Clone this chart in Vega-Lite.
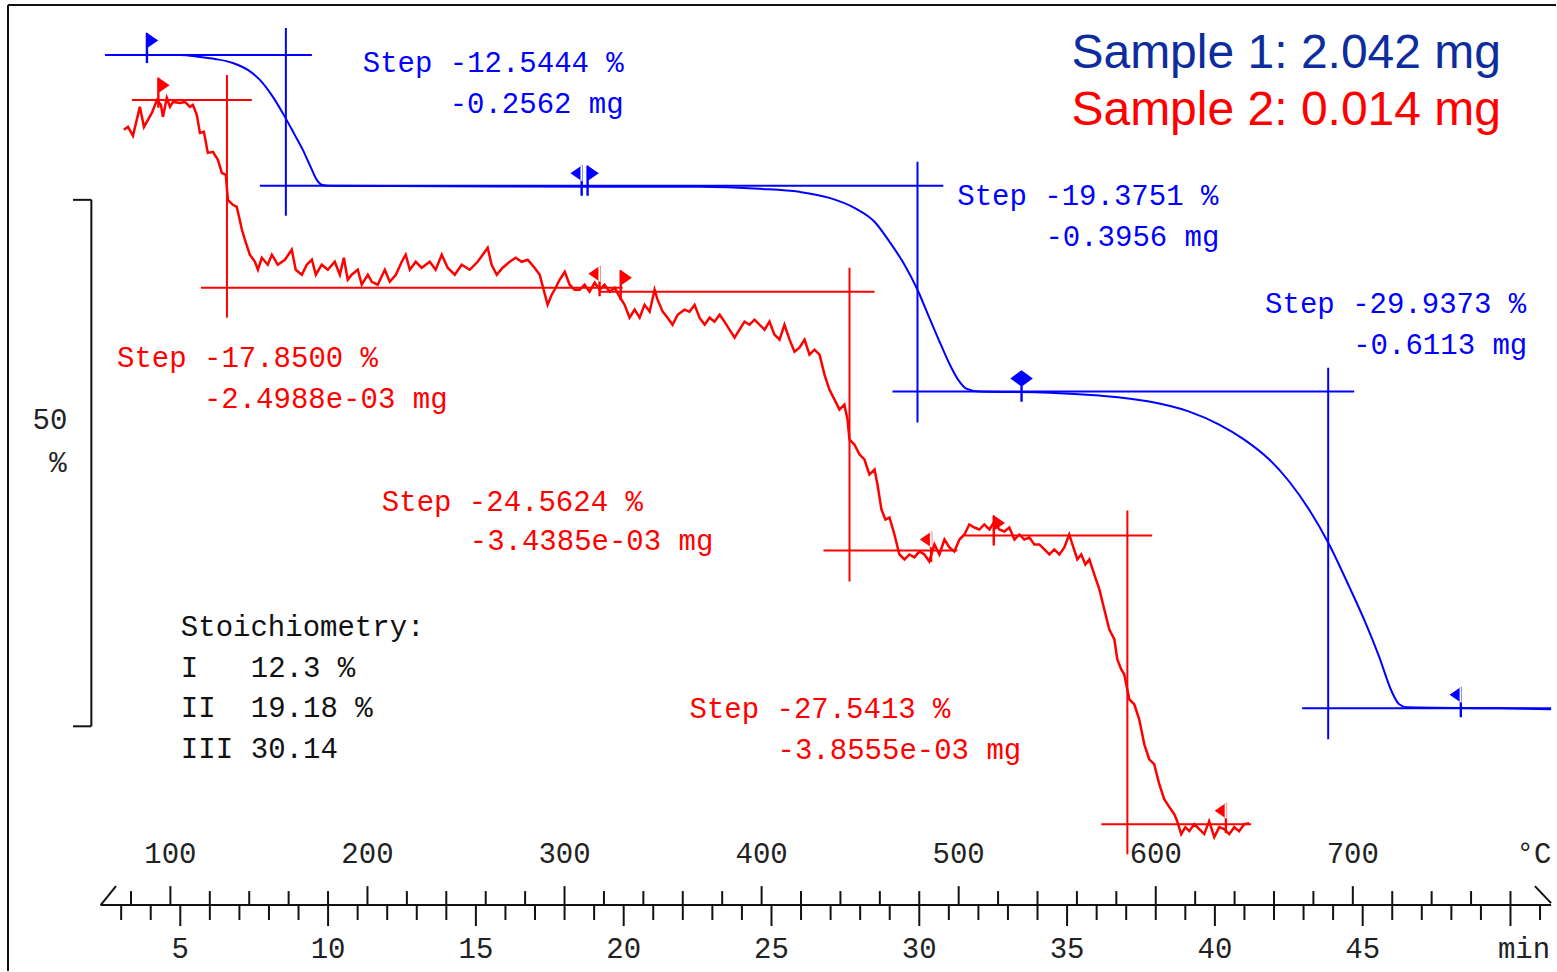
{
"$schema":"https://vega.github.io/schema/vega-lite/v6.json",
"width":1557,"height":972,"padding":0,
"autosize":{"type":"fit","contains":"padding"},
"background":"white",
"config":{"view":{"stroke":null},"text":{"font":"Liberation Mono","fontSize":29}},
"datasets":{
"blue":[{"T":74.4,"v":100.0},{"T":104.8,"v":100.0},{"T":115.0,"v":99.81},{"T":122.6,"v":99.62},{"T":131.7,"v":99.24},{"T":139.3,"v":98.58},{"T":145.4,"v":97.63},{"T":152.0,"v":96.02},{"T":158.1,"v":94.12},{"T":163.1,"v":92.41},{"T":167.2,"v":90.99},{"T":170.7,"v":89.56},{"T":174.3,"v":88.14},{"T":176.8,"v":87.67},{"T":180.9,"v":87.57},{"T":267.1,"v":87.5},{"T":368.5,"v":87.48},{"T":398.9,"v":87.29},{"T":419.2,"v":87.0},{"T":434.4,"v":86.43},{"T":447.1,"v":85.48},{"T":457.3,"v":84.16},{"T":464.9,"v":82.26},{"T":472.5,"v":80.08},{"T":479.1,"v":77.7},{"T":485.1,"v":75.05},{"T":491.2,"v":72.39},{"T":496.3,"v":70.3},{"T":500.4,"v":68.98},{"T":503.9,"v":68.31},{"T":510.5,"v":68.03},{"T":546.0,"v":67.93},{"T":571.4,"v":67.65},{"T":596.7,"v":67.08},{"T":617.0,"v":66.13},{"T":632.2,"v":64.9},{"T":644.9,"v":63.47},{"T":657.6,"v":61.58},{"T":667.7,"v":59.49},{"T":677.8,"v":56.83},{"T":688.0,"v":53.51},{"T":698.1,"v":49.53},{"T":705.7,"v":46.39},{"T":713.3,"v":42.88},{"T":719.9,"v":39.47},{"T":723.5,"v":38.33},{"T":727.5,"v":38.04},{"T":774.2,"v":37.95},{"T":800.6,"v":37.86}],
"red":[{"T":76.4,"v":92.89},{"T":78.5,"v":93.17},{"T":81.0,"v":92.32},{"T":84.5,"v":95.07},{"T":86.6,"v":93.17},{"T":90.6,"v":94.5},{"T":93.2,"v":95.73},{"T":95.2,"v":95.26},{"T":96.2,"v":94.12},{"T":98.2,"v":95.92},{"T":99.8,"v":95.07},{"T":101.3,"v":95.54},{"T":104.8,"v":95.45},{"T":107.4,"v":95.54},{"T":109.9,"v":95.07},{"T":111.4,"v":95.26},{"T":113.4,"v":94.31},{"T":115.0,"v":92.6},{"T":117.0,"v":92.7},{"T":119.0,"v":90.7},{"T":121.6,"v":90.8},{"T":124.1,"v":90.04},{"T":126.1,"v":88.81},{"T":128.1,"v":88.62},{"T":129.2,"v":86.24},{"T":131.7,"v":85.77},{"T":133.7,"v":85.58},{"T":136.3,"v":83.4},{"T":137.8,"v":82.45},{"T":140.3,"v":81.03},{"T":142.9,"v":80.36},{"T":144.4,"v":79.6},{"T":146.4,"v":80.74},{"T":149.4,"v":80.08},{"T":151.5,"v":81.03},{"T":154.5,"v":80.08},{"T":158.1,"v":80.55},{"T":161.6,"v":81.5},{"T":163.6,"v":79.6},{"T":166.7,"v":79.13},{"T":169.2,"v":80.08},{"T":171.8,"v":80.55},{"T":173.8,"v":79.13},{"T":176.8,"v":80.08},{"T":179.9,"v":79.6},{"T":183.4,"v":80.36},{"T":186.0,"v":79.13},{"T":188.0,"v":80.74},{"T":190.0,"v":78.65},{"T":192.0,"v":79.13},{"T":195.1,"v":79.6},{"T":197.1,"v":78.18},{"T":200.2,"v":79.13},{"T":202.2,"v":78.46},{"T":205.2,"v":78.18},{"T":208.8,"v":79.6},{"T":211.3,"v":78.46},{"T":214.4,"v":79.13},{"T":217.4,"v":80.36},{"T":219.4,"v":81.03},{"T":221.5,"v":79.6},{"T":224.5,"v":80.36},{"T":227.5,"v":79.79},{"T":231.6,"v":80.36},{"T":234.6,"v":79.6},{"T":237.7,"v":81.03},{"T":240.7,"v":79.79},{"T":244.3,"v":79.13},{"T":247.8,"v":80.08},{"T":251.9,"v":79.6},{"T":255.9,"v":80.36},{"T":258.5,"v":81.03},{"T":261.0,"v":81.69},{"T":263.0,"v":80.08},{"T":265.6,"v":79.13},{"T":268.6,"v":79.79},{"T":272.2,"v":80.36},{"T":275.2,"v":80.74},{"T":278.3,"v":80.36},{"T":281.3,"v":80.55},{"T":284.8,"v":79.79},{"T":287.4,"v":79.13},{"T":289.4,"v":77.7},{"T":291.4,"v":76.28},{"T":293.5,"v":77.23},{"T":295.5,"v":77.89},{"T":297.5,"v":78.65},{"T":300.1,"v":79.41},{"T":302.6,"v":78.18},{"T":305.1,"v":77.7},{"T":307.7,"v":77.7},{"T":310.2,"v":78.18},{"T":312.7,"v":77.52},{"T":315.3,"v":78.37},{"T":317.8,"v":77.7},{"T":320.3,"v":78.18},{"T":322.9,"v":77.52},{"T":325.4,"v":77.89},{"T":327.9,"v":77.04},{"T":330.5,"v":76.28},{"T":333.0,"v":75.05},{"T":335.6,"v":75.81},{"T":338.1,"v":75.05},{"T":340.6,"v":76.28},{"T":343.2,"v":75.62},{"T":345.7,"v":77.7},{"T":347.2,"v":76.76},{"T":349.8,"v":75.62},{"T":352.3,"v":75.05},{"T":354.8,"v":74.38},{"T":357.4,"v":75.33},{"T":360.9,"v":75.81},{"T":363.4,"v":75.62},{"T":366.0,"v":76.28},{"T":368.5,"v":75.05},{"T":371.1,"v":74.38},{"T":373.6,"v":75.05},{"T":376.1,"v":74.67},{"T":378.7,"v":75.33},{"T":381.2,"v":74.67},{"T":383.7,"v":73.91},{"T":386.3,"v":73.15},{"T":388.8,"v":73.91},{"T":391.3,"v":74.67},{"T":393.9,"v":74.38},{"T":396.4,"v":74.86},{"T":398.9,"v":74.38},{"T":401.5,"v":73.91},{"T":404.0,"v":74.67},{"T":406.5,"v":73.44},{"T":409.1,"v":72.96},{"T":411.6,"v":74.38},{"T":414.2,"v":72.96},{"T":416.7,"v":71.82},{"T":419.2,"v":72.2},{"T":421.8,"v":72.96},{"T":424.3,"v":71.54},{"T":426.8,"v":72.01},{"T":429.4,"v":71.54},{"T":431.9,"v":69.64},{"T":434.4,"v":68.22},{"T":437.0,"v":67.27},{"T":439.5,"v":66.32},{"T":442.0,"v":66.79},{"T":443.6,"v":65.37},{"T":444.6,"v":63.47},{"T":447.1,"v":63.0},{"T":449.7,"v":62.05},{"T":452.2,"v":61.58},{"T":454.7,"v":60.15},{"T":457.3,"v":60.63},{"T":458.8,"v":59.2},{"T":460.8,"v":56.83},{"T":462.8,"v":55.88},{"T":464.9,"v":56.07},{"T":467.4,"v":54.46},{"T":469.9,"v":52.56},{"T":472.5,"v":52.09},{"T":475.0,"v":52.56},{"T":477.5,"v":52.28},{"T":480.1,"v":52.85},{"T":482.6,"v":52.56},{"T":485.1,"v":51.9},{"T":487.7,"v":53.51},{"T":490.2,"v":52.56},{"T":492.8,"v":53.98},{"T":495.3,"v":53.23},{"T":497.8,"v":52.85},{"T":500.4,"v":53.98},{"T":502.9,"v":54.46},{"T":505.4,"v":55.41},{"T":508.0,"v":55.12},{"T":510.5,"v":54.93},{"T":513.0,"v":55.41},{"T":515.6,"v":54.93},{"T":518.1,"v":55.69},{"T":520.6,"v":54.93},{"T":523.2,"v":54.74},{"T":525.7,"v":55.12},{"T":528.3,"v":53.98},{"T":530.8,"v":54.46},{"T":533.3,"v":53.98},{"T":535.9,"v":54.17},{"T":538.4,"v":53.51},{"T":540.9,"v":53.51},{"T":543.5,"v":53.04},{"T":546.0,"v":52.56},{"T":548.5,"v":53.04},{"T":551.1,"v":52.56},{"T":553.6,"v":53.23},{"T":556.1,"v":54.46},{"T":558.2,"v":53.23},{"T":560.2,"v":52.09},{"T":562.2,"v":52.56},{"T":564.3,"v":51.61},{"T":566.3,"v":52.09},{"T":568.8,"v":50.66},{"T":571.4,"v":49.24},{"T":573.9,"v":47.34},{"T":576.4,"v":45.45},{"T":579.0,"v":44.5},{"T":580.5,"v":42.6},{"T":582.5,"v":41.65},{"T":584.0,"v":41.18},{"T":586.6,"v":38.8},{"T":589.1,"v":38.33},{"T":591.6,"v":36.91},{"T":594.2,"v":34.53},{"T":596.7,"v":33.11},{"T":599.2,"v":32.64},{"T":601.8,"v":30.74},{"T":604.3,"v":29.32},{"T":606.9,"v":28.56},{"T":609.4,"v":27.89},{"T":610.9,"v":27.23},{"T":612.9,"v":26.0},{"T":615.0,"v":26.66},{"T":617.0,"v":26.28},{"T":619.5,"v":26.94},{"T":622.1,"v":26.47},{"T":624.6,"v":26.0},{"T":627.1,"v":27.23},{"T":629.7,"v":25.71},{"T":632.2,"v":26.66},{"T":634.7,"v":26.47},{"T":637.3,"v":26.0},{"T":639.8,"v":26.66},{"T":642.3,"v":26.28},{"T":644.9,"v":26.94},{"T":647.4,"v":27.04}],
"segments":[
{"T":17.6,"T2":803.1,"v":104.75,"v2":104.75,"s":"axis"},
{"T":17.6,"T2":17.6,"v":104.75,"v2":13.0,"s":"axis"},
{"T":50.6,"T2":59.9,"v":86.24,"v2":86.24,"s":"axis"},
{"T":59.9,"T2":59.9,"v":86.24,"v2":36.24,"s":"axis"},
{"T":50.6,"T2":59.9,"v":36.24,"v2":36.24,"s":"axis"},
{"T":64.6,"T2":800.6,"v":19.26,"v2":19.26,"s":"axis"},
{"T":64.6,"T2":72.4,"v":19.26,"v2":21.06,"s":"axis"},
{"T":792.4,"T2":800.6,"v":21.06,"v2":19.45,"s":"axis"},
{"T":66.8,"T2":171.8,"v":100.0,"v2":100.0,"s":"Sample 1"},
{"T":158.6,"T2":158.6,"v":102.56,"v2":84.73,"s":"Sample 1"},
{"T":145.4,"T2":492.2,"v":87.57,"v2":87.57,"s":"Sample 1"},
{"T":479.1,"T2":479.1,"v":89.85,"v2":65.09,"s":"Sample 1"},
{"T":466.4,"T2":700.7,"v":68.03,"v2":68.03,"s":"Sample 1"},
{"T":687.5,"T2":687.5,"v":70.3,"v2":35.01,"s":"Sample 1"},
{"T":674.3,"T2":800.6,"v":37.95,"v2":37.95,"s":"Sample 1"},
{"T":80.5,"T2":141.3,"v":95.73,"v2":95.73,"s":"Sample 2"},
{"T":128.7,"T2":128.7,"v":98.1,"v2":75.05,"s":"Sample 2"},
{"T":115.5,"T2":329.5,"v":77.89,"v2":77.89,"s":"Sample 2"},
{"T":317.8,"T2":457.3,"v":77.52,"v2":77.52,"s":"Sample 2"},
{"T":444.6,"T2":444.6,"v":79.79,"v2":50.0,"s":"Sample 2"},
{"T":431.4,"T2":499.3,"v":52.94,"v2":52.94,"s":"Sample 2"},
{"T":502.9,"T2":598.2,"v":54.36,"v2":54.36,"s":"Sample 2"},
{"T":585.6,"T2":585.6,"v":56.74,"v2":24.1,"s":"Sample 2"},
{"T":572.4,"T2":648.4,"v":26.94,"v2":26.94,"s":"Sample 2"}
],
"tempTicks":[
{"T":80,"v":19.26,"v2":20.59},{"T":100,"v":19.26,"v2":21.06},{"T":120,"v":19.26,"v2":20.59},{"T":140,"v":19.26,"v2":20.59},{"T":160,"v":19.26,"v2":20.59},{"T":180,"v":19.26,"v2":20.59},{"T":200,"v":19.26,"v2":21.06},{"T":220,"v":19.26,"v2":20.59},{"T":240,"v":19.26,"v2":20.59},{"T":260,"v":19.26,"v2":20.59},{"T":280,"v":19.26,"v2":20.59},{"T":300,"v":19.26,"v2":21.06},{"T":320,"v":19.26,"v2":20.59},{"T":340,"v":19.26,"v2":20.59},{"T":360,"v":19.26,"v2":20.59},{"T":380,"v":19.26,"v2":20.59},{"T":400,"v":19.26,"v2":21.06},{"T":420,"v":19.26,"v2":20.59},{"T":440,"v":19.26,"v2":20.59},{"T":460,"v":19.26,"v2":20.59},{"T":480,"v":19.26,"v2":20.59},{"T":500,"v":19.26,"v2":21.06},{"T":520,"v":19.26,"v2":20.59},{"T":540,"v":19.26,"v2":20.59},{"T":560,"v":19.26,"v2":20.59},{"T":580,"v":19.26,"v2":20.59},{"T":600,"v":19.26,"v2":21.06},{"T":620,"v":19.26,"v2":20.59},{"T":640,"v":19.26,"v2":20.59},{"T":660,"v":19.26,"v2":20.59},{"T":680,"v":19.26,"v2":20.59},{"T":700,"v":19.26,"v2":21.06},{"T":720,"v":19.26,"v2":20.59},{"T":740,"v":19.26,"v2":20.59},{"T":760,"v":19.26,"v2":20.59},{"T":780,"v":19.26,"v2":20.59}
],
"flags":[
{"T":88.1,"v":100.67,"s":"Sample 1","kind":"right"},
{"T":308.7,"v":88.05,"s":"Sample 1","kind":"left"},
{"T":311.7,"v":88.05,"s":"Sample 1","kind":"right"},
{"T":531.9,"v":68.5,"s":"Sample 1","kind":"both"},
{"T":754.8,"v":38.52,"s":"Sample 1","kind":"left"},
{"T":93.9,"v":96.4,"s":"Sample 2","kind":"right"},
{"T":317.8,"v":78.51,"s":"Sample 2","kind":"left"},
{"T":328.5,"v":78.13,"s":"Sample 2","kind":"right"},
{"T":486.0,"v":53.27,"s":"Sample 2","kind":"left"},
{"T":517.8,"v":54.84,"s":"Sample 2","kind":"right"},
{"T":635.6,"v":27.51,"s":"Sample 2","kind":"left"}
],
"notes":[
{"T":197.6,"v":99.24,"label":"Step -12.5444 %","s":"Sample 1"},
{"T":241.7,"v":95.35,"label":"-0.2562 mg","s":"Sample 1"},
{"T":499.3,"v":86.62,"label":"Step -19.3751 %","s":"Sample 1"},
{"T":544.0,"v":82.73,"label":"-0.3956 mg","s":"Sample 1"},
{"T":655.5,"v":76.38,"label":"Step -29.9373 %","s":"Sample 1"},
{"T":700.2,"v":72.49,"label":"-0.6113 mg","s":"Sample 1"},
{"T":72.9,"v":71.25,"label":"Step -17.8500 %","s":"Sample 2"},
{"T":117.0,"v":67.36,"label":"-2.4988e-03 mg","s":"Sample 2"},
{"T":207.3,"v":57.59,"label":"Step -24.5624 %","s":"Sample 2"},
{"T":251.9,"v":53.8,"label":"-3.4385e-03 mg","s":"Sample 2"},
{"T":363.4,"v":37.86,"label":"Step -27.5413 %","s":"Sample 2"},
{"T":408.1,"v":33.97,"label":"-3.8555e-03 mg","s":"Sample 2"},
{"T":105.3,"v":45.64,"label":"Stoichiometry:","s":"axis"},
{"T":105.3,"v":41.74,"label":"I","s":"axis"},
{"T":140.8,"v":41.74,"label":"12.3 %","s":"axis"},
{"T":105.3,"v":37.95,"label":"II","s":"axis"},
{"T":140.8,"v":37.95,"label":"19.18 %","s":"axis"},
{"T":105.3,"v":34.06,"label":"III","s":"axis"},
{"T":140.8,"v":34.06,"label":"30.14","s":"axis"}
],
"tempLabels":[
{"T":100,"v":24.1,"label":"100"},{"T":200,"v":24.1,"label":"200"},{"T":300,"v":24.1,"label":"300"},{"T":400,"v":24.1,"label":"400"},{"T":500,"v":24.1,"label":"500"},{"T":600,"v":24.1,"label":"600"},{"T":700,"v":24.1,"label":"700"},{"T":791.9,"v":24.1,"label":"°C"},
{"T":38.9,"v":65.37,"label":"50"},{"T":43.0,"v":61.29,"label":"%"}
],
"titles":[
{"T":775.2,"v":100.1,"label":"Sample 1: 2.042 mg","s":"title 1"},
{"T":775.2,"v":94.69,"label":"Sample 2: 0.014 mg","s":"title 2"}
],
"timeTicks":[
{"min":3,"v":19.26,"v2":17.84},{"min":4,"v":19.26,"v2":17.84},{"min":5,"v":19.26,"v2":17.27},{"min":6,"v":19.26,"v2":17.84},{"min":7,"v":19.26,"v2":17.84},{"min":8,"v":19.26,"v2":17.84},{"min":9,"v":19.26,"v2":17.84},{"min":10,"v":19.26,"v2":17.27},{"min":11,"v":19.26,"v2":17.84},{"min":12,"v":19.26,"v2":17.84},{"min":13,"v":19.26,"v2":17.84},{"min":14,"v":19.26,"v2":17.84},{"min":15,"v":19.26,"v2":17.27},{"min":16,"v":19.26,"v2":17.84},{"min":17,"v":19.26,"v2":17.84},{"min":18,"v":19.26,"v2":17.84},{"min":19,"v":19.26,"v2":17.84},{"min":20,"v":19.26,"v2":17.27},{"min":21,"v":19.26,"v2":17.84},{"min":22,"v":19.26,"v2":17.84},{"min":23,"v":19.26,"v2":17.84},{"min":24,"v":19.26,"v2":17.84},{"min":25,"v":19.26,"v2":17.27},{"min":26,"v":19.26,"v2":17.84},{"min":27,"v":19.26,"v2":17.84},{"min":28,"v":19.26,"v2":17.84},{"min":29,"v":19.26,"v2":17.84},{"min":30,"v":19.26,"v2":17.27},{"min":31,"v":19.26,"v2":17.84},{"min":32,"v":19.26,"v2":17.84},{"min":33,"v":19.26,"v2":17.84},{"min":34,"v":19.26,"v2":17.84},{"min":35,"v":19.26,"v2":17.27},{"min":36,"v":19.26,"v2":17.84},{"min":37,"v":19.26,"v2":17.84},{"min":38,"v":19.26,"v2":17.84},{"min":39,"v":19.26,"v2":17.84},{"min":40,"v":19.26,"v2":17.27},{"min":41,"v":19.26,"v2":17.84},{"min":42,"v":19.26,"v2":17.84},{"min":43,"v":19.26,"v2":17.84},{"min":44,"v":19.26,"v2":17.84},{"min":45,"v":19.26,"v2":17.27},{"min":46,"v":19.26,"v2":17.84},{"min":47,"v":19.26,"v2":17.84},{"min":48,"v":19.26,"v2":17.84},{"min":49,"v":19.26,"v2":17.84},{"min":50,"v":19.26,"v2":17.27},{"min":51,"v":19.26,"v2":17.84}
],
"timeLabels":[
{"min":5,"v":15.08,"label":"5"},{"min":10,"v":15.08,"label":"10"},{"min":15,"v":15.08,"label":"15"},{"min":20,"v":15.08,"label":"20"},{"min":25,"v":15.08,"label":"25"},{"min":30,"v":15.08,"label":"30"},{"min":35,"v":15.08,"label":"35"},{"min":40,"v":15.08,"label":"40"},{"min":45,"v":15.08,"label":"45"},{"min":50.46,"v":15.08,"label":"min"}
]
},
"resolve":{"scale":{"x":"independent"}},
"layer":[
{
"encoding":{
"x":{"field":"T","type":"quantitative","scale":{"domain":[13.54,803.1],"nice":false,"zero":false},"axis":null},
"y":{"field":"v","type":"quantitative","scale":{"domain":[13.0,105.22],"nice":false,"zero":false},"axis":null}
},
"layer":[
{"data":{"name":"segments"},"mark":{"type":"rule","strokeWidth":2},
 "encoding":{"x2":{"field":"T2"},"y2":{"field":"v2"},
 "color":{"field":"s","type":"nominal","legend":null,"scale":{"domain":["Sample 1","Sample 2","axis","title 1","title 2"],"range":["#0000ff","#ff0000","#111111","#0d2d9e","#ff0000"]}}}},
{"data":{"name":"tempTicks"},"mark":{"type":"rule","strokeWidth":2,"color":"#111111"},
 "encoding":{"y2":{"field":"v2"}}},
{"data":{"name":"blue"},"mark":{"type":"line","strokeWidth":2,"color":"#0000ff","interpolate":"monotone"},"encoding":{}},
{"data":{"name":"red"},"mark":{"type":"line","strokeWidth":2.5,"color":"#ff0000"},"encoding":{}},
{"data":{"name":"flags"},"mark":{"type":"point","filled":true,"opacity":1,"size":900},
 "encoding":{
 "color":{"field":"s","type":"nominal","legend":null,"scale":{"domain":["Sample 1","Sample 2","axis","title 1","title 2"],"range":["#0000ff","#ff0000","#111111","#0d2d9e","#ff0000"]}},
 "shape":{"field":"kind","type":"nominal","legend":null,"scale":{"domain":["right","left","both"],"range":["M-0.08,-1L0.08,-1L0.08,1L-0.08,1ZM-0.05,-1.05L0.75,-0.5L-0.05,0.05Z","M-0.08,-1L0.08,-1L0.08,1L-0.08,1ZM0.05,-1.05L-0.75,-0.5L0.05,0.05Z","M-0.08,-1L0.08,-1L0.08,1L-0.08,1ZM0,-1.1L0.75,-0.55L0,0L-0.75,-0.55Z"]}}}},
{"data":{"name":"notes"},"mark":{"type":"text","align":"left","baseline":"middle"},
 "encoding":{"text":{"field":"label"},
 "color":{"field":"s","type":"nominal","legend":null,"scale":{"domain":["Sample 1","Sample 2","axis","title 1","title 2"],"range":["#0000ff","#ff0000","#111111","#0d2d9e","#ff0000"]}}}},
{"data":{"name":"tempLabels"},"mark":{"type":"text","align":"center","baseline":"middle","color":"#222222"},
 "encoding":{"text":{"field":"label"}}},
{"data":{"name":"titles"},"mark":{"type":"text","align":"right","baseline":"middle","font":"Liberation Sans","fontSize":48},
 "encoding":{"text":{"field":"label"},
 "color":{"field":"s","type":"nominal","legend":null,"scale":{"domain":["Sample 1","Sample 2","axis","title 1","title 2"],"range":["#0000ff","#ff0000","#111111","#0d2d9e","#ff0000"]}}}}
]
},
{
"encoding":{
"x":{"field":"min","type":"quantitative","scale":{"domain":[-1.099,51.54],"nice":false,"zero":false},"axis":null},
"y":{"field":"v","type":"quantitative","scale":{"domain":[13.0,105.22],"nice":false,"zero":false},"axis":null}
},
"layer":[
{"data":{"name":"timeTicks"},"mark":{"type":"rule","strokeWidth":2,"color":"#111111"},"encoding":{"y2":{"field":"v2"}}},
{"data":{"name":"timeLabels"},"mark":{"type":"text","align":"center","baseline":"middle","color":"#222222"},"encoding":{"text":{"field":"label"}}}
]
}
]
}
